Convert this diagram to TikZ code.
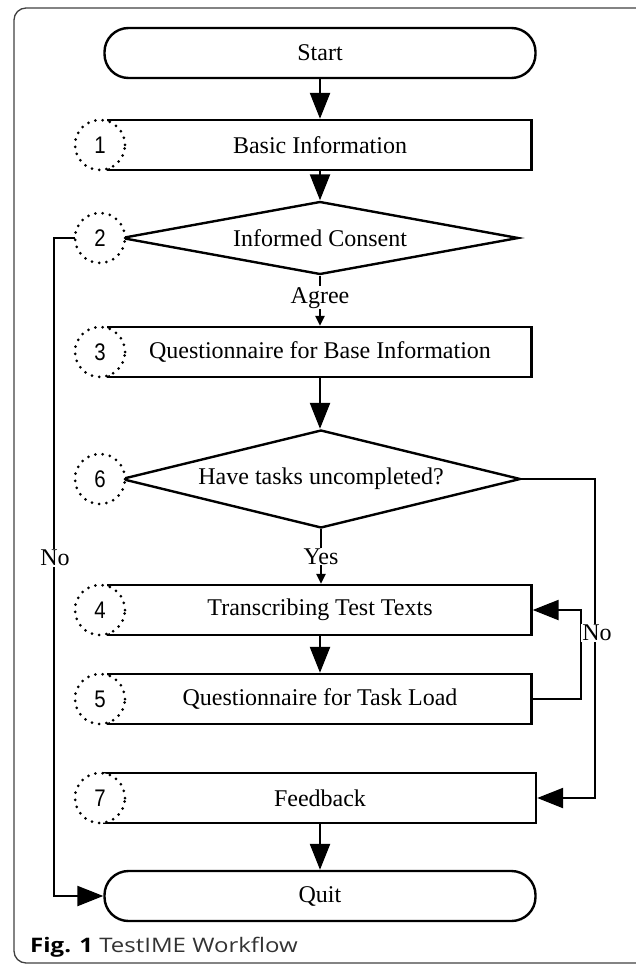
\documentclass[tikz,border=0pt]{standalone}
\usepackage{fontspec}
\setmainfont{Liberation Serif}
\newfontfamily\numfont[FakeStretch=0.85]{Liberation Sans}
\newfontfamily\capfont[FakeStretch=1.2]{Open Sans}
\usetikzlibrary{shapes.geometric,arrows.meta}
\begin{document}
\begin{tikzpicture}[x=1pt,y=-1pt,
  line width=2.4pt,
  txt/.style={font=\fontsize{24}{28}\selectfont},
  box/.style={draw, txt, minimum width=423pt, minimum height=50pt, inner sep=0pt},
  term/.style={draw, txt, rounded corners=24pt, minimum width=431pt, minimum height=50pt, inner sep=0pt},
  dec/.style={draw, txt, diamond, inner sep=0pt},
  num/.style={circle, draw, fill=white, minimum size=50pt, inner sep=0pt, line width=3pt,
    dash pattern=on 0pt off 7.3pt, line cap=round, font=\numfont\fontsize{24}{24}\selectfont},
  arr/.style={-{Triangle[length=26pt,width=20pt]}},
  sarr/.style={-{Triangle[length=10pt,width=9pt]}},
  lbl/.style={txt, fill=white, inner sep=1pt},
]
\useasboundingbox (0,0) rectangle (635,965);
% frame
\draw[line width=1.3pt, draw=black!75, rounded corners=12pt] (14,8) rectangle (650,963);

% nodes
\node[term] (start) at (320,53) {Start};
\node[box] (b1) at (320,145) {Basic Information};
\node[dec, aspect=5.4, minimum width=397pt, minimum height=73pt] (d2) at (320,238) {Informed Consent};
\node[box] (b3) at (320,352) {Questionnaire for Base Information};
\node[dec, aspect=4.05, minimum width=399pt, minimum height=98pt] (d6) at (321,479) {Have tasks uncompleted?};
\node[box] (b4) at (320,610) {Transcribing Test Texts};
\node[box] (b5) at (320,699) {Questionnaire for Task Load};
\node[box, minimum width=432pt] (b7) at (320,798) {Feedback};
\node[term] (quit) at (320,896) {Quit};

% connectors
\draw[arr] (start.south) -- (b1.north);
\draw[arr] (b1.south) -- (d2.north);
\draw[sarr] (d2.south) -- (b3.north) node[lbl, pos=0.44] (agree) {Agree};
\draw[arr] (b3.south) -- (b3.south |- d6.north);
\draw[sarr] (d6.south) -- (d6.south |- b4.north) node[lbl, pos=0.5] (yes) {Yes};
\draw[arr] (b4.south) -- (b5.north);
\draw[arr] (b7.south) -- (quit.north);

\coordinate (l1) at (54,238);
\coordinate (l2) at (54,896);
\draw[arr] (d2.west) -- (l1) -- (l2) -- (quit.west);
\node[lbl] (nol) at (55,558) {No};

\coordinate (r1) at (595,479);
\coordinate (r2) at (595,798);
\draw[arr] (d6.east) -- (r1) -- (r2) -- (b7.east);
\coordinate (s1) at (581,699);
\coordinate (s2) at (581,610);
\draw[arr] (b5.east) -- (s1) -- (s2) -- (b4.east);
\node[lbl] (nor) at (597,633) {No};

% step circles
\node[num] (c1) at (100,145) {1};
\node[num] (c2) at (100,238) {2};
\node[num] (c3) at (100,352) {3};
\node[num] (c6) at (100,479) {6};
\node[num] (c4) at (100,610) {4};
\node[num] (c5) at (100,699) {5};
\node[num] (c7) at (100,798) {7};

% caption
\node[anchor=west, inner sep=0pt, font=\capfont\fontsize{20}{23}\selectfont] (cap) at (29,947) {\textbf{Fig. 1} \textcolor{black!80}{TestIME Workflow}};
\end{tikzpicture}
\end{document}
